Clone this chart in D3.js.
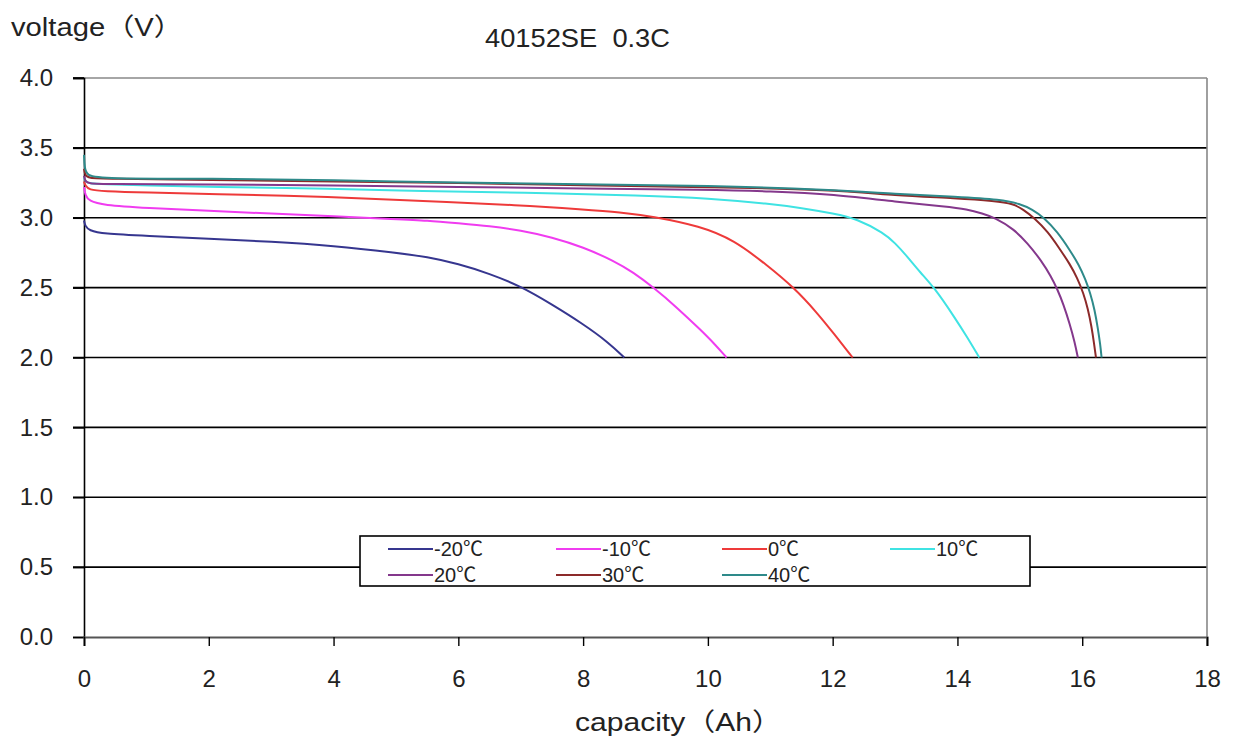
<!DOCTYPE html>
<html>
<head>
<meta charset="utf-8">
<script src="https://cdn.jsdelivr.net/npm/d3@7"></script>
<style>
html,body{margin:0;padding:0;background:#fff;}
svg{display:block;}
text{font-family:"Liberation Sans",Arial,"Noto Sans CJK SC",sans-serif;fill:#222;white-space:pre;}
</style>
</head>
<body>
<svg id="chart" width="1242" height="740"></svg>
<script>
const chartTitle = "40152SE  0.3C";
const yTitle = "voltage（V）";
const xTitle = "capacity（Ah）";
const seriesNames = ["-20℃","-10℃","0℃","10℃","20℃","30℃","40℃"];
const seriesColors = ["#36368f","#f03cf0","#ee3a3a","#3fe3e3","#84388c","#8c2a2a","#2e8a8a"];
const xTicks = [0,2,4,6,8,10,12,14,16,18];
const yTicks = [0,0.5,1,1.5,2,2.5,3,3.5,4];

const sM20 = [[0,2.98],[0.02,2.94],[0.08,2.91],[0.3,2.885],[1,2.87],[2,2.85],[3,2.83],[4,2.80],[5,2.75],[5.5,2.72],[6,2.67],[6.5,2.60],[7,2.51],[7.5,2.38],[8,2.24],[8.4,2.11],[8.66,2.0],[8.66,2.0]];
const sM10 = [[0,3.22],[0.02,3.16],[0.08,3.12],[0.3,3.09],[1,3.07],[2,3.05],[3,3.03],[4,3.01],[5,2.99],[5.5,2.98],[6,2.96],[6.5,2.94],[7,2.91],[7.5,2.86],[8,2.79],[8.5,2.69],[8.8,2.61],[9.13,2.50],[9.5,2.36],[9.9,2.19],[10.1,2.10],[10.3,2.0],[10.3,2.0]];
const s0 = [[0,3.26],[0.02,3.23],[0.08,3.20],[0.3,3.19],[1,3.18],[2,3.17],[4,3.15],[5.4,3.12],[7,3.09],[8,3.06],[8.6,3.04],[9.1,3.01],[9.88,2.94],[10.42,2.84],[10.95,2.66],[11.38,2.50],[11.75,2.32],[12.02,2.17],[12.32,2.0],[12.32,2.0]];
const s10 = [[0,3.29],[0.02,3.26],[0.08,3.245],[0.3,3.24],[1,3.23],[2,3.22],[4,3.21],[5.4,3.19],[7,3.18],[9,3.16],[10,3.14],[11,3.10],[11.5,3.07],[12.02,3.03],[12.4,2.99],[12.82,2.89],[13.0,2.82],[13.2,2.72],[13.4,2.61],[13.63,2.50],[13.95,2.29],[14.15,2.15],[14.35,2.0],[14.35,2.0]];
const s20 = [[0,3.30],[0.02,3.26],[0.08,3.245],[0.3,3.24],[2,3.24],[4,3.23],[6,3.22],[8,3.21],[10,3.20],[11,3.19],[12,3.17],[13.1,3.11],[13.8,3.08],[14.16,3.06],[14.4,3.03],[14.6,3.0],[14.9,2.92],[15.12,2.82],[15.35,2.69],[15.5,2.58],[15.6,2.49],[15.7,2.38],[15.8,2.24],[15.88,2.11],[15.93,2.0],[15.93,2.0]];
const s30 = [[0,3.35],[0.02,3.30],[0.08,3.285],[0.3,3.28],[2,3.27],[4,3.26],[6,3.25],[8,3.23],[10,3.22],[12,3.20],[13,3.16],[14,3.14],[14.6,3.12],[14.9,3.10],[15.05,3.06],[15.23,3.0],[15.45,2.90],[15.65,2.77],[15.8,2.67],[15.92,2.57],[16.02,2.46],[16.09,2.35],[16.15,2.22],[16.19,2.10],[16.22,2.0],[16.22,2.0]];
const s40 = [[0,3.45],[0.01,3.36],[0.04,3.30],[0.3,3.28],[2,3.28],[4,3.27],[6,3.25],[8,3.24],[10,3.23],[12,3.20],[13,3.17],[14,3.15],[14.7,3.13],[15.0,3.10],[15.2,3.06],[15.39,3.0],[15.6,2.90],[15.8,2.77],[15.95,2.66],[16.05,2.56],[16.13,2.46],[16.2,2.34],[16.25,2.21],[16.29,2.09],[16.31,2.0],[16.31,2.0]];
const seriesData = [sM20,sM10,s0,s10,s20,s30,s40];

const svg = d3.select("#chart");
const x = d3.scaleLinear().domain([0,18]).range([84,1207]);
const y = d3.scaleLinear().domain([0,4]).range([637,78]);

// gridlines
svg.append("g").selectAll("line").data(yTicks.filter(d=>d>0 && d<4)).join("line")
  .attr("x1",73).attr("x2",x(18)).attr("y1",d=>y(d)).attr("y2",d=>y(d))
  .attr("stroke","#000").attr("stroke-width",1.6);
// top border
svg.append("line").attr("x1",73).attr("x2",x(18)).attr("y1",y(4)).attr("y2",y(4))
  .attr("stroke","#888").attr("stroke-width",1.6);
svg.append("line").attr("x1",73).attr("x2",84).attr("y1",y(4)).attr("y2",y(4))
  .attr("stroke","#000").attr("stroke-width",1.6);
// right border
svg.append("line").attr("x1",x(18)).attr("x2",x(18)).attr("y1",y(4)).attr("y2",y(0)+9)
  .attr("stroke","#888").attr("stroke-width",1.6);

// y axis
const yAxis = d3.axisLeft(y).tickValues(yTicks).tickFormat(d3.format(".1f")).tickSize(11).tickPadding(20);
const gy = svg.append("g").attr("transform","translate(84,0)").call(yAxis);
gy.select(".domain").attr("stroke","#000").attr("stroke-width",1.6);
gy.selectAll(".tick line").attr("stroke","#000").attr("stroke-width",1.6);
gy.selectAll(".tick text").attr("font-size",24).attr("fill","#222")
  .style("font-family","'Liberation Sans',Arial,sans-serif");

// x axis
const xAxis = d3.axisBottom(x).tickValues(xTicks).tickFormat(d3.format("d")).tickSize(9).tickPadding(24);
const gx = svg.append("g").attr("transform","translate(0,637)").call(xAxis);
gx.select(".domain").attr("stroke","#555").attr("stroke-width",2.2);
gx.selectAll(".tick line").attr("stroke","#000").attr("stroke-width",1.4);
gx.selectAll(".tick text").attr("font-size",24).attr("fill","#222")
  .style("font-family","'Liberation Sans',Arial,sans-serif");

// series
const line = d3.line().x(d=>x(d[0])).y(d=>y(d[1])).curve(d3.curveBasis);
svg.append("g").selectAll("path").data(seriesData).join("path")
  .attr("d",line).attr("fill","none")
  .attr("stroke",(d,i)=>seriesColors[i]).attr("stroke-width",2);

// titles
svg.append("text").attr("x",11).attr("y",36).attr("font-size",25)
  .attr("textLength",172).attr("lengthAdjust","spacingAndGlyphs").text(yTitle);
svg.append("text").attr("x",485).attr("y",47).attr("font-size",25)
  .attr("textLength",185).attr("lengthAdjust","spacingAndGlyphs").text(chartTitle);
svg.append("text").attr("x",575).attr("y",731).attr("font-size",25)
  .attr("textLength",207).attr("lengthAdjust","spacingAndGlyphs").text(xTitle);

// legend
const lg = svg.append("g");
lg.append("rect").attr("x",360).attr("y",536).attr("width",670).attr("height",50)
  .attr("fill","#fff").attr("stroke","#000").attr("stroke-width",1.6);
const colX = [388,556,722,890];
const rowY = [549,575];
const items = lg.selectAll("g.item").data(seriesNames).join("g").attr("class","item")
  .attr("transform",(d,i)=>`translate(${colX[i%4]},${rowY[Math.floor(i/4)]})`);
items.append("line").attr("x1",0).attr("x2",45).attr("y1",0).attr("y2",0)
  .attr("stroke",(d,i)=>seriesColors[i]).attr("stroke-width",2);
items.append("text").attr("x",46).attr("y",7).attr("font-size",20).text(d=>d);
</script>
</body>
</html>
